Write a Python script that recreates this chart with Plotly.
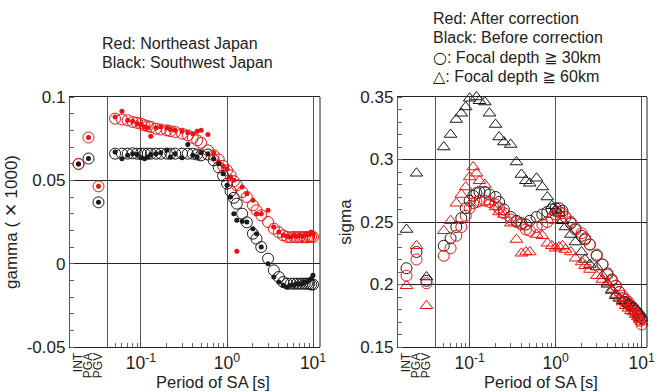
import plotly.graph_objects as go

# ---------------- data ----------------
cats = ["INT", "PGA", "PGV"]
periods = [0.05, 0.06, 0.07, 0.08, 0.09, 0.10, 0.11, 0.12, 0.13, 0.15, 0.17, 0.20, 0.22, 0.25,
           0.30, 0.35, 0.40, 0.45, 0.50, 0.60, 0.70, 0.80, 0.90, 1.0, 1.1, 1.2, 1.3, 1.5, 1.7,
           2.0, 2.2, 2.5, 3.0, 3.5, 4.0, 4.5, 5.0, 5.5, 6.0, 6.5, 7.0, 7.5, 8.0, 8.5, 9.0, 9.5, 10.0]

# gamma (x1000): red = Northeast Japan, black = Southwest Japan
gam_ne_open_cat = [0.0598, 0.0757, 0.0464]
gam_sw_open_cat = [0.0598, 0.0631, 0.0368]
gam_ne_dot_cat = [0.0598, 0.0757, 0.0464]
gam_sw_dot_cat = [0.0598, 0.0631, 0.0368]

gam_ne_open = [0.087, 0.0865, 0.086, 0.085, 0.0845, 0.084, 0.083, 0.0825, 0.082, 0.081, 0.0805,
               0.080, 0.0795, 0.079, 0.078, 0.077, 0.0755, 0.074, 0.0725, 0.068, 0.065, 0.0625,
               0.0587, 0.056, 0.053, 0.0495, 0.047, 0.043, 0.040, 0.035, 0.032, 0.029, 0.025,
               0.021, 0.0188, 0.017, 0.016, 0.0158, 0.016, 0.0158, 0.016, 0.0158, 0.016, 0.0158,
               0.016, 0.0162, 0.016]
gam_sw_open = [0.066, 0.066, 0.066, 0.0662, 0.066, 0.066, 0.066, 0.066, 0.066, 0.066, 0.066,
               0.066, 0.066, 0.066, 0.066, 0.066, 0.066, 0.0655, 0.065, 0.0655, 0.062, 0.0578,
               0.0528, 0.048, 0.0435, 0.0395, 0.036, 0.030, 0.0248, 0.018, 0.015, 0.010, 0.003,
               -0.004, -0.008, -0.011, -0.012, -0.012, -0.012, -0.012, -0.012, -0.012, -0.012,
               -0.012, -0.012, -0.0125, -0.0125]
gam_ne_dot = [0.088, 0.0915, 0.086, 0.0855, 0.084, 0.0835, 0.082, 0.0815, 0.0765, 0.0815, 0.082,
              0.0815, 0.0805, 0.080, 0.0795, 0.0785, 0.078, 0.0795, 0.080, 0.0775, 0.0665, 0.061,
              0.0585, 0.057, 0.052, 0.050, 0.0075, 0.046, 0.042, 0.038, 0.030, 0.030, 0.032,
              0.022, 0.019, 0.017, 0.0165, 0.016, 0.017, 0.0165, 0.017, 0.0165, 0.017, 0.0175,
              0.0175, 0.019, 0.018]
gam_sw_dot = [0.067, 0.063, 0.065, 0.066, 0.0655, 0.0635, 0.063, 0.064, 0.0655, 0.066, 0.0665,
              0.068, 0.064, 0.066, 0.0635, 0.0715, 0.065, 0.064, 0.0665, 0.066, 0.063, 0.060,
              0.054, 0.047, 0.040, 0.030, 0.026, 0.0255, 0.025, 0.021, 0.018, 0.010, 0.000,
              -0.008, -0.011, -0.013, -0.014, -0.013, -0.013, -0.012, -0.012, -0.012, -0.011,
              -0.011, -0.010, -0.009, -0.007]

# sigma: red = after correction, black = before correction
sig_b_tri_cat = [0.244, 0.289, 0.206]
sig_b_cir_cat = [0.213, 0.226, 0.203]
sig_r_cir_cat = [0.207, 0.220, 0.201]
sig_r_tri_cat = [0.199, 0.231, 0.183]

sig_b_tri = [0.310, 0.320, 0.332, 0.337, 0.342, 0.349, 0.351, 0.350, 0.347, 0.346, 0.337, 0.328,
             0.318, 0.314, 0.312, 0.298, 0.288, 0.283, 0.281, 0.285, 0.278, 0.270, 0.263, 0.260,
             0.257, 0.251, 0.246, 0.240, 0.234, 0.226, 0.220, 0.216, 0.214, 0.207, 0.201, 0.196,
             0.191, 0.189, 0.187, 0.186, 0.185, 0.184, 0.182, 0.181, 0.178, 0.176, 0.173]
sig_b_cir = [0.231, 0.237, 0.246, 0.253, 0.261, 0.267, 0.271, 0.273, 0.274, 0.274, 0.272, 0.270,
             0.266, 0.260, 0.254, 0.251, 0.249, 0.248, 0.251, 0.254, 0.256, 0.258, 0.260, 0.261,
             0.261, 0.259, 0.254, 0.249, 0.244, 0.239, 0.236, 0.232, 0.223, 0.216, 0.208, 0.204,
             0.199, 0.194, 0.189, 0.186, 0.184, 0.183, 0.181, 0.179, 0.177, 0.175, 0.173]
sig_r_cir = [0.223, 0.229, 0.239, 0.246, 0.255, 0.261, 0.265, 0.266, 0.267, 0.267, 0.266, 0.264,
             0.261, 0.257, 0.252, 0.250, 0.248, 0.244, 0.243, 0.246, 0.248, 0.250, 0.253, 0.256,
             0.258, 0.257, 0.254, 0.250, 0.245, 0.241, 0.237, 0.232, 0.224, 0.216, 0.209, 0.203,
             0.199, 0.194, 0.191, 0.188, 0.186, 0.183, 0.180, 0.177, 0.174, 0.171, 0.168]
sig_r_tri = [0.243, 0.251, 0.265, 0.272, 0.278, 0.286, 0.294, 0.289, 0.283, 0.280, 0.266, 0.262,
             0.258, 0.256, 0.249, 0.236, 0.225, 0.226, 0.226, 0.240, 0.239, 0.233, 0.231, 0.229,
             0.230, 0.231, 0.228, 0.226, 0.221, 0.218, 0.215, 0.212, 0.207, 0.204, 0.200, 0.195,
             0.192, 0.189, 0.186, 0.183, 0.181, 0.179, 0.178, 0.176, 0.174, 0.172, 0.170]

gam_ticks = [0.1, 0.05, 0, -0.05]
gam_ticktext = ["0.1", "0.05", "0", "-0.05"]
sig_ticks = [0.15, 0.2, 0.25, 0.3, 0.35]
sig_ticktext = ["0.15", "0.2", "0.25", "0.3", "0.35"]
log_ticks = [0.1, 1, 10]
log_ticktext = ["10<sup>-1</sup>", "10<sup>0</sup>", "10<sup>1</sup>"]

# ---------------- layout geometry ----------------
W, H = 659, 392
def fx(px):
    return px / W
def fy(py):
    return 1 - py / H

Y_TOP, Y_BOT = 97, 347
L_CAT = (70, 107); L_LOG = (107, 320)
R_CAT = (398, 435); R_LOG = (435, 647)

RED = "#ee1111"
BLK = "#1a1a1a"
TXT = "#222"
FONT = "Liberation Sans, Arial, sans-serif"
SYMF = "DejaVu Sans"

minor_log = [m * d for d in (0.01, 0.1, 1) for m in range(2, 10)]

fig = go.Figure()

def add(x, y, xa, ya, symbol, color, size, width=1.0):
    fig.add_trace(go.Scatter(
        x=x, y=y, xaxis=xa, yaxis=ya, mode="markers", showlegend=False,
        marker=dict(symbol=symbol, size=size, color=color,
                    line=dict(color=color, width=width)),
        cliponaxis=False))

# left panel
add(cats, gam_sw_open_cat, "x", "y", "circle-open", BLK, 11)
add(periods, gam_sw_open, "x2", "y", "circle-open", BLK, 11)
add(cats, gam_ne_open_cat, "x", "y", "circle-open", RED, 11)
add(periods, gam_ne_open, "x2", "y", "circle-open", RED, 11)
add(cats, gam_ne_dot_cat, "x", "y", "circle", RED, 5, 0)
add(periods, gam_ne_dot, "x2", "y", "circle", RED, 5, 0)
add(cats, gam_sw_dot_cat, "x", "y", "circle", BLK, 5, 0)
add(periods, gam_sw_dot, "x2", "y", "circle", BLK, 5, 0)

# right panel
add(cats, sig_b_tri_cat, "x3", "y2", "triangle-up-open", BLK, 11)
add(periods, sig_b_tri, "x4", "y2", "triangle-up-open", BLK, 11)
add(cats, sig_b_cir_cat, "x3", "y2", "circle-open", BLK, 11)
add(periods, sig_b_cir, "x4", "y2", "circle-open", BLK, 11)
add(cats, sig_r_cir_cat, "x3", "y2", "circle-open", RED, 11)
add(periods, sig_r_cir, "x4", "y2", "circle-open", RED, 11)
add(cats, sig_r_tri_cat, "x3", "y2", "triangle-up-open", RED, 11)
add(periods, sig_r_tri, "x4", "y2", "triangle-up-open", RED, 11)

def cat_axis(dom, anchor):
    return dict(domain=[fx(dom[0]), fx(dom[1])], anchor=anchor, type="category",
                categoryorder="array", categoryarray=cats, range=[-0.85, 2.85],
                tickmode="array", tickvals=cats, ticktext=cats,
                tickangle=-90, ticks="", showgrid=False, zeroline=False, automargin=False,
                showline=True, linecolor=TXT, linewidth=1, mirror=True,
                tickfont=dict(family=FONT, size=12, color=TXT))

def log_axis(dom, anchor, rng):
    return dict(domain=[fx(dom[0]), fx(dom[1])], anchor=anchor, type="log", range=rng,
                tickmode="array", tickvals=log_ticks, ticktext=log_ticktext,
                ticks="inside", ticklen=5, tickcolor="#444", automargin=False,
                showgrid=True, gridcolor="#555", gridwidth=1.3, zeroline=False,
                showline=True, linecolor=TXT, linewidth=1, mirror=True,
                minor=dict(tickmode="array", tickvals=minor_log, ticks="inside", ticklen=4,
                           tickcolor="#666", showgrid=False),
                tickfont=dict(family=FONT, size=17.5, color=TXT))

def y_axis(anchor, rng, tv, tt, title, dtick_minor):
    return dict(domain=[fy(Y_BOT), fy(Y_TOP)], anchor=anchor, range=rng,
                tickmode="array", tickvals=tv, ticktext=tt, ticks="", automargin=False,
                showgrid=True, gridcolor=TXT, gridwidth=1, zeroline=False,
                showline=True, linecolor="#555", linewidth=1.3, mirror=True,
                minor=dict(dtick=dtick_minor, ticks="inside", ticklen=4, tickcolor="#666",
                           showgrid=False),
                tickfont=dict(family=FONT, size=17, color=TXT),
                title=dict(text=title, font=dict(family=FONT, size=17, color=TXT), standoff=4))

fig.update_layout(
    width=W, height=H, margin=dict(l=0, r=0, t=0, b=0, autoexpand=False),
    paper_bgcolor="white", plot_bgcolor="white",
    xaxis=cat_axis(L_CAT, "y"),
    xaxis2=log_axis(L_LOG, "y", [-1.395, 1.081]),
    yaxis=y_axis("x", [-0.05, 0.1], gam_ticks, gam_ticktext, "gamma ( \u2715 1000)", 0.01),
    xaxis3=cat_axis(R_CAT, "y2"),
    xaxis4=log_axis(R_LOG, "y2", [-1.403, 1.062]),
    yaxis2=y_axis("x3", [0.15, 0.35], sig_ticks, sig_ticktext, "sigma", 0.01),
)

# right border of each panel
for dom in (L_LOG, R_LOG):
    fig.add_shape(type="line", xref="paper", yref="paper",
                  x0=fx(dom[1]), x1=fx(dom[1]), y0=fy(Y_BOT), y1=fy(Y_TOP),
                  line=dict(color=TXT, width=1))

# x-axis titles (centred on the log part of each panel)
for dom in (L_LOG, R_LOG):
    fig.add_annotation(text="Period of SA [s]", xref="paper", yref="paper",
                       x=fx((dom[0] + dom[1]) / 2), y=fy(381.5), xanchor="center",
                       yanchor="middle", showarrow=False,
                       font=dict(family=FONT, size=16.5, color=TXT))

def sym(ch):
    return f'<span style="font-family:{SYMF}">{ch}</span>'

notes_left = ["Red: Northeast Japan", "Black: Southwest Japan"]
notes_right = ["Red: After correction", "Black: Before correction",
               sym("\u25cb") + ": Focal depth " + sym("\u2267") + " 30km",
               sym("\u25b3") + ": Focal depth " + sym("\u2267") + " 60km"]
for i, t in enumerate(notes_left):
    fig.add_annotation(text=t, xref="paper", yref="paper", x=fx(100), y=fy(43 + 20 * i),
                       xanchor="left", yanchor="middle", showarrow=False,
                       font=dict(family=FONT, size=16, color=TXT))
for i, t in enumerate(notes_right):
    fig.add_annotation(text=t, xref="paper", yref="paper", x=fx(431), y=fy(18 + 19.5 * i),
                       xanchor="left", yanchor="middle", showarrow=False,
                       font=dict(family=FONT, size=16, color=TXT))

fig.write_html("out.html")
